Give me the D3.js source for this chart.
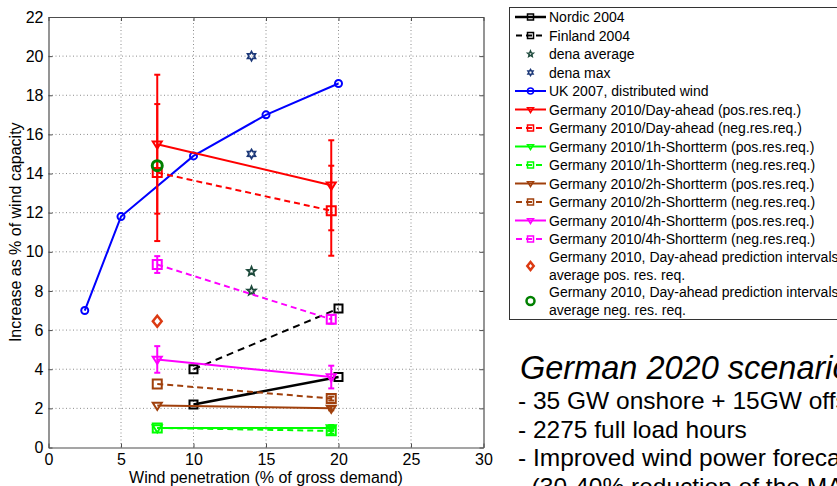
<!DOCTYPE html>
<html>
<head>
<meta charset="utf-8">
<script src="https://cdn.jsdelivr.net/npm/d3@7"></script>
<style>
  html, body { margin: 0; padding: 0; background: #fff; }
  svg { display: block; font-family: Arial, "Liberation Sans", sans-serif; }
</style>
</head>
<body>
<svg id="chart" width="837" height="486"></svg>
<script>
// ---- data ----------------------------------------------------------------
const xTicks = [0, 5, 10, 15, 20, 25, 30];
const yTicks = [0, 2, 4, 6, 8, 10, 12, 14, 16, 18, 20, 22];

const nordicX = [10, 20];
const nordicY = [2.2, 3.6];
const finlandX = [10, 20];
const finlandY = [4.0, 7.1];

const denaX = [14, 14];
const denaAvg = [9.0, 8.0];
const denaMax = [20.0, 15.0];

const ukX = [2.5, 5, 10, 15, 20];
const ukY = [7.0, 11.8, 14.9, 17.0, 18.6];

// Germany 2010 studies, two penetration levels
const gerX = [7.5, 19.5];
const daPos = [15.5, 13.4];
const daPosErr = [3.55, 2.3];
const daNeg = [14.05, 12.1];
const daNegErr = [3.5, 2.3];
const h1Pos = [1.0, 1.0];
const h1PosErr = [0.0, 0.15];
const h1Neg = [1.0, 0.85];
const h1NegErr = [0.0, 0.15];
const h2Pos = [2.15, 2.0];
const h2PosErr = [0.0, 0.1];
const h2Neg = [3.25, 2.5];
const h2NegErr = [0.0, 0.1];
const h4Pos = [4.5, 3.6];
const h4PosErr = [0.68, 0.58];
const h4Neg = [9.35, 6.55];
const h4NegErr = [0.43, 0.22];

const piPosX = 7.5, piPosY = 6.45;   // prediction intervals, positive
const piNegX = 7.5, piNegY = 14.4;   // prediction intervals, negative

const legendLabels = [
  "Nordic 2004",
  "Finland 2004",
  "dena average",
  "dena max",
  "UK 2007, distributed wind",
  "Germany 2010/Day-ahead (pos.res.req.)",
  "Germany 2010/Day-ahead (neg.res.req.)",
  "Germany 2010/1h-Shortterm (pos.res.req.)",
  "Germany 2010/1h-Shortterm (neg.res.req.)",
  "Germany 2010/2h-Shortterm (pos.res.req.)",
  "Germany 2010/2h-Shortterm (neg.res.req.)",
  "Germany 2010/4h-Shortterm (pos.res.req.)",
  "Germany 2010/4h-Shortterm (neg.res.req.)",
  "Germany 2010, Day-ahead prediction intervals\naverage pos. res. req.",
  "Germany 2010, Day-ahead prediction intervals\naverage neg. res. req."
];

const noteTitle = "German 2020 scenario";
const noteLines = [
  "- 35 GW onshore + 15GW offshore",
  "- 2275 full load hours",
  "- Improved wind power forecast",
  "  (30-40% reduction of the MAE)"
];

// ---- styles ---------------------------------------------------------------
const RED = "#ff0000", GREEN = "#00ff00", BROWN = "#a0400c", MAG = "#ff00ff";
const DASH = "6,4";

const series = [
  { x: nordicX, y: nordicY, color: "#000", dash: null, marker: "square", lw: 2.5, ms: 8 },
  { x: finlandX, y: finlandY, color: "#000", dash: "7,5", marker: "square", lw: 2, ms: 8 },
  { x: denaX, y: denaAvg, color: "#1e4a3c", dash: null, marker: "star", lw: 0, ms: 9 },
  { x: denaX, y: denaMax, color: "#1c3878", dash: null, marker: "hexagram", lw: 0, ms: 9 },
  { x: ukX, y: ukY, color: "#0000ff", dash: null, marker: "circle", lw: 2, ms: 7 },
  { x: gerX, y: daPos, err: daPosErr, color: RED, dash: null, marker: "tri", lw: 2, ms: 9 },
  { x: gerX, y: daNeg, err: daNegErr, color: RED, dash: DASH, marker: "square", lw: 2, ms: 9 },
  { x: gerX, y: h1Pos, err: h1PosErr, color: GREEN, dash: null, marker: "tri", lw: 2, ms: 9 },
  { x: gerX, y: h1Neg, err: h1NegErr, color: GREEN, dash: DASH, marker: "square", lw: 2, ms: 9 },
  { x: gerX, y: h2Pos, err: h2PosErr, color: BROWN, dash: null, marker: "tri", lw: 2, ms: 9 },
  { x: gerX, y: h2Neg, err: h2NegErr, color: BROWN, dash: DASH, marker: "square", lw: 2, ms: 9 },
  { x: gerX, y: h4Pos, err: h4PosErr, color: MAG, dash: null, marker: "tri", lw: 2, ms: 9 },
  { x: gerX, y: h4Neg, err: h4NegErr, color: MAG, dash: DASH, marker: "square", lw: 2, ms: 9 },
  { x: [piPosX], y: [piPosY], color: "#dc3a12", dash: null, marker: "diamond", lw: 0, ms: 11, mw: 2.5 },
  { x: [piNegX], y: [piNegY], color: "#008000", dash: null, marker: "circle", lw: 0, ms: 10, mw: 3 }
];

// ---- layout ---------------------------------------------------------------
const svg = d3.select("#chart");
const x = d3.scaleLinear().domain([0, 30]).range([48.5, 483.5]);
const y = d3.scaleLinear().domain([0, 22]).range([447.5, 17]);

const plot = svg.append("g");

// grid
plot.append("g").selectAll("line").data(xTicks.slice(1, -1)).join("line")
  .attr("x1", d => x(d)).attr("x2", d => x(d))
  .attr("y1", y(0)).attr("y2", y(22))
  .attr("stroke", "#8c8c8c").attr("stroke-width", 1).attr("stroke-dasharray", "1,2.5");
plot.append("g").selectAll("line").data(yTicks.slice(1, -1)).join("line")
  .attr("y1", d => y(d)).attr("y2", d => y(d))
  .attr("x1", x(0)).attr("x2", x(30))
  .attr("stroke", "#8c8c8c").attr("stroke-width", 1).attr("stroke-dasharray", "1,2.5");

// axes (ticks pointing inward, box around the plot)
const xAxis = d3.axisBottom(x).tickValues(xTicks).tickSizeInner(-4).tickSizeOuter(0).tickPadding(6);
const yAxis = d3.axisLeft(y).tickValues(yTicks).tickSizeInner(-4).tickSizeOuter(0).tickPadding(5);
const gx = plot.append("g").attr("transform", `translate(0,${y(0)})`).call(xAxis);
const gy = plot.append("g").attr("transform", `translate(${x(0)},0)`).call(yAxis);
const gx2 = plot.append("g").attr("transform", `translate(0,${y(22)})`)
  .call(d3.axisTop(x).tickValues(xTicks).tickSizeInner(-4).tickSizeOuter(0).tickFormat(""));
const gy2 = plot.append("g").attr("transform", `translate(${x(30)},0)`)
  .call(d3.axisRight(y).tickValues(yTicks).tickSizeInner(-4).tickSizeOuter(0).tickFormat(""));
[gx, gy, gx2, gy2].forEach(g => {
  g.select(".domain").attr("stroke", "#4d4d4d").attr("stroke-width", 1.2);
  g.selectAll(".tick line").attr("stroke", "#4d4d4d");
  g.selectAll("text").attr("font-size", 16).attr("fill", "#000")
    .attr("font-family", "Arial, 'Liberation Sans', sans-serif");
});

svg.append("text").attr("x", x(15)).attr("y", 482.5).attr("text-anchor", "middle")
  .attr("font-size", 16).text("Wind penetration (% of gross demand)");
svg.append("text").attr("transform", `translate(21,${(y(0) + y(22)) / 2}) rotate(-90)`)
  .attr("text-anchor", "middle").attr("font-size", 16).text("Increase as % of wind capacity");

// ---- markers ----------------------------------------------------------------
function markerPath(kind, s) {
  const h = s / 2;
  switch (kind) {
    case "square": return `M${-h},${-h}H${h}V${h}H${-h}Z`;
    case "tri": return `M${-h},${-h * 0.6}H${h}L0,${h}Z`;
    case "circle": return d3.arc()({ innerRadius: 0, outerRadius: h, startAngle: 0, endAngle: 2 * Math.PI });
    case "diamond": return `M0,${-h}L${h * 0.8},0L0,${h}L${-h * 0.8},0Z`;
    case "star": {
      const pts = [];
      for (let i = 0; i < 10; i++) {
        const r = i % 2 ? h * 0.45 : h;
        const a = -Math.PI / 2 + i * Math.PI / 5;
        pts.push([r * Math.cos(a), r * Math.sin(a)]);
      }
      return "M" + pts.join("L") + "Z";
    }
    case "hexagram": {
      const pts = [];
      for (let i = 0; i < 12; i++) {
        const r = i % 2 ? h * 0.58 : h;
        const a = -Math.PI / 2 + i * Math.PI / 6;
        pts.push([r * Math.cos(a), r * Math.sin(a)]);
      }
      return "M" + pts.join("L") + "Z";
    }
  }
  return "";
}

const lineGen = d3.line().x(d => x(d[0])).y(d => y(d[1]));

series.forEach(s => {
  const pts = s.x.map((v, i) => [v, s.y[i]]);
  const g = plot.append("g");
  if (s.lw > 0 && pts.length > 1) {
    g.append("path").attr("d", lineGen(pts)).attr("fill", "none")
      .attr("stroke", s.color).attr("stroke-width", s.lw)
      .attr("stroke-dasharray", s.dash);
  }
  if (s.err) {
    pts.forEach((p, i) => {
      const e = s.err[i];
      if (!e) return;
      const cx = x(p[0]), y1 = y(p[1] - e), y2 = y(p[1] + e);
      g.append("line").attr("x1", cx).attr("x2", cx).attr("y1", y1).attr("y2", y2)
        .attr("stroke", s.color).attr("stroke-width", 2);
      [y1, y2].forEach(yy => g.append("line").attr("x1", cx - 3).attr("x2", cx + 3)
        .attr("y1", yy).attr("y2", yy).attr("stroke", s.color).attr("stroke-width", 2));
    });
  }
  g.selectAll(".mk").data(pts).join("path").attr("class", "mk")
    .attr("transform", d => `translate(${x(d[0])},${y(d[1])})`)
    .attr("d", markerPath(s.marker, s.ms))
    .attr("fill", "none").attr("stroke", s.color)
    .attr("stroke-width", s.mw || (s.marker === "star" || s.marker === "hexagram" ? 1.8 : 2));
});

// ---- legend ------------------------------------------------------------------
const lg = svg.append("g");
lg.append("rect").attr("x", 509.5).attr("y", 7.5).attr("width", 400).attr("height", 312)
  .attr("fill", "#fff").attr("stroke", "#333").attr("stroke-width", 1);
const rowY = [17, 35.5, 54, 72.5, 91, 109.5, 128, 146.5, 165, 183.5, 202, 220.5, 239, 266, 301];
series.forEach((s, i) => {
  const cy = rowY[i];
  if (s.lw > 0) {
    lg.append("line").attr("x1", 515).attr("x2", 546).attr("y1", cy).attr("y2", cy)
      .attr("stroke", s.color).attr("stroke-width", s.lw)
      .attr("stroke-dasharray", s.dash ? "6,4" : null)
      .attr("stroke-dashoffset", s.dash ? -1 : null);
  }
  lg.append("path").attr("transform", `translate(530.5,${cy})`)
    .attr("d", markerPath(s.marker, s.marker === "diamond" || i === 14 ? 8 : 6))
    .attr("fill", "none").attr("stroke", s.color)
    .attr("stroke-width", s.marker === "diamond" || i === 14 ? 2.5 : 1.5);
  const parts = legendLabels[i].split("\n");
  const t = lg.append("text").attr("x", 549).attr("font-size", 14)
    .attr("y", cy + 5 - (parts.length - 1) * 8.7);
  parts.forEach((p, k) => t.append("tspan").attr("x", 549).attr("dy", k ? 17.4 : 0).text(p));
});

// ---- scenario note -------------------------------------------------------------
svg.append("text").attr("x", 520).attr("y", 379).attr("font-size", 32.5)
  .attr("font-style", "italic").text(noteTitle);
noteLines.forEach((l, i) => {
  svg.append("text").attr("x", 518).attr("y", 409 + i * 28.5).attr("font-size", 24.5)
    .attr("xml:space", "preserve").style("white-space", "pre").text(l);
});
</script>
</body>
</html>
